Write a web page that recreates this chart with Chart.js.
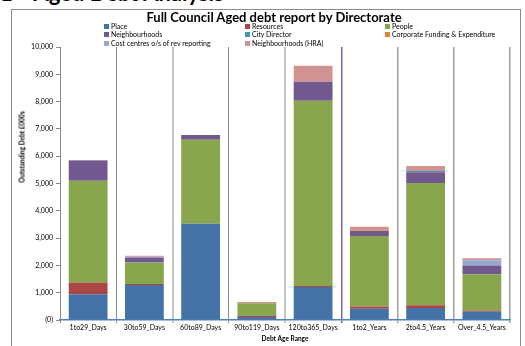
<!DOCTYPE html>
<html>
<head>
<meta charset="utf-8">
<script src="https://cdn.jsdelivr.net/npm/chart.js@4.4.0/dist/chart.umd.min.js"></script>
<style>
  body { margin: 0; background: #fff; width: 525px; height: 346px; overflow: hidden; position: relative; font-family: Lato, "Liberation Sans", sans-serif; }
  #heading { position: absolute; left: 0; top: -21px; font-size: 22px; font-weight: bold; white-space: pre; color: #000; }
  #frame { position: absolute; left: 11px; top: 9px; width: 510px; height: 345px; border: 1px solid #8c8c8c; box-sizing: border-box; }
  #wrap { position: absolute; left: 0; top: 0; width: 525px; height: 346px; }
  #title { position: absolute; left: 274px; top: 17px; transform: translate(-50%, -50%); font-size: 13px; font-weight: bold; white-space: nowrap; color: #000; }
  .lg { position: absolute; font-size: 7px; line-height: 8px; white-space: nowrap; color: #000; }
  .lg i { display: inline-block; width: 5px; height: 5px; margin-right: 2px; vertical-align: 0; }
  #ytitle { position: absolute; left: 22px; top: 147px; font-size: 6.5px; font-weight: bold; white-space: nowrap; transform: translate(-50%, -50%) rotate(-90deg); }
</style>
</head>
<body>
<div id="heading">1    Aged Debt Analysis</div>
<div id="frame"></div>
<div id="wrap"><canvas id="myChart" width="525" height="346"></canvas></div>
<div id="title">Full Council Aged debt report by Directorate</div>
<div id="ytitle">Outstanding Debt £000s</div>
<script>
const categories = ["1to29_Days", "30to59_Days", "60to89_Days", "90to119_Days", "120to365_Days", "1to2_Years", "2to4.5_Years", "Over_4.5_Years"];

const place = [940, 1280, 3530, 110, 1210, 410, 440, 300];
const resources = [430, 40, 0, 50, 40, 80, 100, 50];
const people = [3730, 790, 3070, 450, 6780, 2590, 4480, 1330];
const neighbourhoods = [740, 180, 180, 0, 700, 180, 390, 320];
const cityDirector = [0, 0, 0, 0, 0, 0, 50, 0];
const corporateFunding = [0, 0, 0, 0, 0, 30, 0, 0];
const costCentres = [0, 30, 0, 0, 0, 0, 0, 190];
const neighbourhoodsHRA = [20, 30, 0, 50, 580, 130, 180, 70];

const yTicks = [0, 1000, 2000, 3000, 4000, 5000, 6000, 7000, 8000, 9000, 10000];

const series = [
  { label: "Place", data: place, color: "#4572A7" },
  { label: "Resources", data: resources, color: "#AA4643" },
  { label: "People", data: people, color: "#89A54E" },
  { label: "Neighbourhoods", data: neighbourhoods, color: "#71588F" },
  { label: "City Director", data: cityDirector, color: "#4198AF" },
  { label: "Corporate Funding & Expenditure", data: corporateFunding, color: "#DB843D" },
  { label: "Cost centres o/s of rev reporting", data: costCentres, color: "#93A9CF" },
  { label: "Neighbourhoods (HRA)", data: neighbourhoodsHRA, color: "#D19392" }
];

// legend in three columns like the original
const legendX = [104, 245, 385];
const legendY = [22, 30, 38.5];
series.forEach((s, i) => {
  const el = document.createElement("div");
  el.className = "lg";
  el.style.left = legendX[i % 3] + "px";
  el.style.top = legendY[Math.floor(i / 3)] + "px";
  el.innerHTML = '<i style="background:' + s.color + '"></i>';
  el.appendChild(document.createTextNode(s.label));
  document.body.appendChild(el);
});

const gridColors = ["#888", "#8a8a8a", "#c4c4c4", "#8a8a8a", "#c4c4c4", "#8064A2", "#a0a0a0", "#a0a0a0", "#c4c4c4"];
const gridWidths = [1, 1, 2, 1, 2, 1.5, 1.5, 1.5, 2];

const data = {
  labels: categories,
  datasets: series.map(s => ({
    label: s.label,
    data: s.data,
    backgroundColor: s.color,
    borderWidth: 0,
    barPercentage: 0.69,
    categoryPercentage: 1
  }))
};

const config = {
  type: "bar",
  data: data,
  options: {
    responsive: false,
    animation: false,
    layout: { padding: { left: 0, right: 15, top: 47, bottom: 0 } },
    plugins: {
      legend: { display: false },
      tooltip: { enabled: false },
      title: { display: false }
    },
    scales: {
      x: {
        stacked: true,
        grid: {
          offset: true,
          drawOnChartArea: true,
          tickLength: 3,
          color: ctx => gridColors[ctx.index] || "#a0a0a0",
          lineWidth: ctx => gridWidths[ctx.index] || 1.5
        },
        border: { color: "#4F81BD", width: 1.5 },
        ticks: { color: "#000", font: { family: "Lato", size: 7 }, padding: 1, maxRotation: 0, autoSkip: false },
        title: {
          display: true,
          text: "Debt Age Range",
          color: "#000",
          font: { family: "Lato", size: 6.5, weight: "bold" },
          padding: { top: 0, bottom: 3 }
        },
        afterFit(scale) { scale.height = 26; }
      },
      y: {
        stacked: true,
        min: 0,
        max: 10000,
        afterBuildTicks(scale) { scale.ticks = yTicks.map(v => ({ value: v })); },
        ticks: {
          color: "#000",
          font: { family: "Lato", size: 7 },
          padding: 3,
          callback: v => v === 0 ? "(0)" : v.toLocaleString("en-GB")
        },
        grid: { drawOnChartArea: false, tickLength: 4, color: "#888" },
        border: { color: "#888" },
        afterFit(scale) { scale.width = 60; }
      }
    }
  }
};

const myChart = new Chart(document.getElementById("myChart"), config);
</script>
</body>
</html>
